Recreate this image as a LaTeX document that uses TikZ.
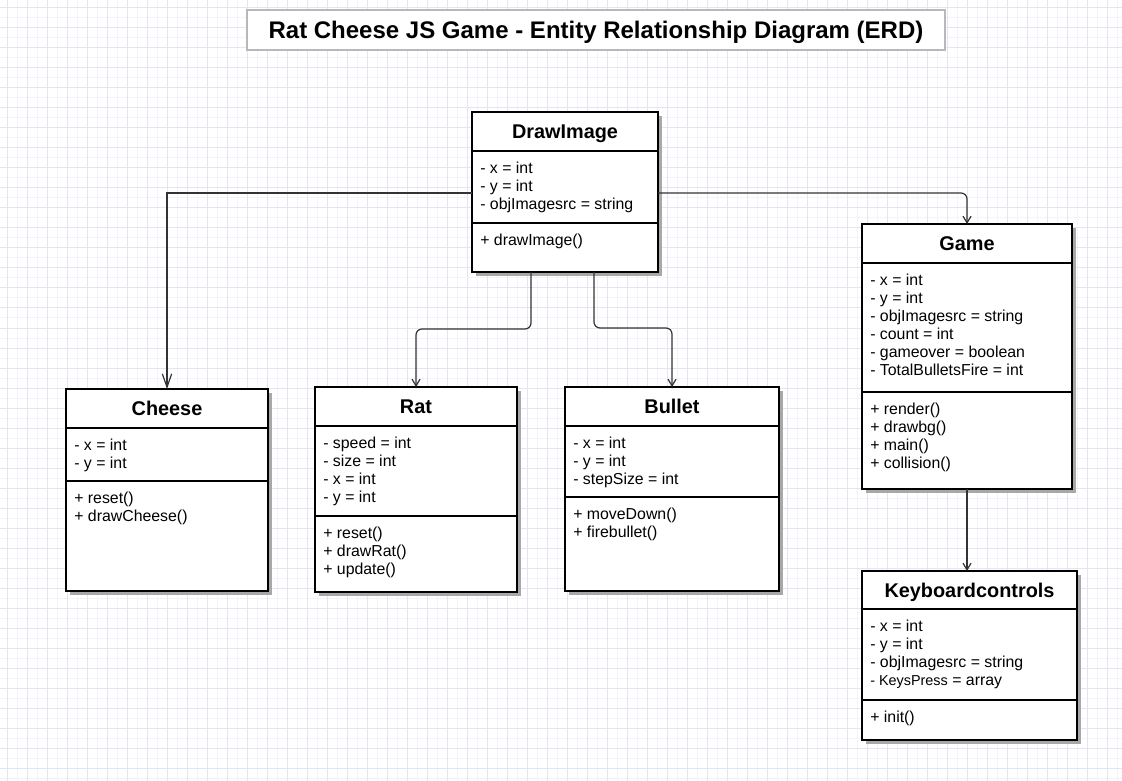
\documentclass[tikz,border=0pt]{standalone}
\usepackage{fontspec}
\setmainfont{Liberation Sans}
\usetikzlibrary{arrows.meta,shadows}
\definecolor{gridminor}{HTML}{F3F3FB}
\definecolor{gridmajor}{HTML}{E4E4F5}
\definecolor{shade}{HTML}{A8A8A8}
\definecolor{linkgray}{HTML}{333333}

\begin{document}
\begin{tikzpicture}[x=0.75pt, y=-0.75pt,
	box/.style={draw, line width=1.5pt, fill=white, anchor=north west, inner sep=0pt, outer sep=0pt,
		drop shadow={shadow xshift=3pt, shadow yshift=-3pt, fill=shade, opacity=1}},
	head/.style={box, font=\fontsize{14.9}{17}\selectfont\bfseries, text height=10.7pt, text depth=0pt},
	members/.style={anchor=north west, inner sep=0pt, align=left, font=\fontsize{11.9}{13.5}\selectfont},
	titlebox/.style={draw=black!28, line width=1.5pt, fill=white, minimum width=523.5pt, minimum height=30pt,
		font=\fontsize{18}{20}\selectfont\bfseries, text height=12.9pt, text depth=0pt},
	link/.style={draw=linkgray, line width=0.9pt, rounded corners=4.5pt, -{Straight Barb[length=5pt, width=6pt]}},
	longlink/.style={link, rounded corners=0pt, -{Straight Barb[length=10pt, width=7pt]}}]
		\useasboundingbox (0,0) rectangle (1122,781);
		\fill[white] (0,0) rectangle (1122,781);
		% grid
		\foreach \gx in {7,17,...,1117} \draw[gridminor, line width=0.75pt] (\gx,0) -- (\gx,781);
		\foreach \gy in {8,18,...,778} \draw[gridminor, line width=0.75pt] (0,\gy) -- (1122,\gy);
		\foreach \gx in {7,27,...,1107} \draw[gridmajor, line width=0.75pt] (\gx,0) -- (\gx,781);
		\foreach \gy in {8,28,...,768} \draw[gridmajor, line width=0.75pt] (0,\gy) -- (1122,\gy);

		\draw (596,30) node[titlebox] (title) {Rat Cheese JS Game - Entity Relationship Diagram (ERD)};

		% DrawImage
		\draw (472,112) node[head, minimum width=139.5pt, minimum height=29.25pt] (drawhead) {DrawImage};
		\draw (drawhead.south west) node[box, minimum width=139.5pt, minimum height=54pt] (drawattr) {};
		\draw (drawattr.south west) node[box, minimum width=139.5pt, minimum height=36.75pt] (drawmeth) {};
		\draw ([shift={(8,10.5)}]drawattr.north west) node[members] (drawattrtext) {- x = int\\- y = int\\- objImagesrc = string};
		\draw ([shift={(8,10.5)}]drawmeth.north west) node[members] (drawmethtext) {+ drawImage()};

		% Cheese
		\draw (66,389) node[head, minimum width=151.5pt, minimum height=29.25pt] (cheese) {Cheese};
		\draw (cheese.south west) node[box, minimum width=151.5pt, minimum height=39.75pt] (cheeseattr) {};
		\draw (cheeseattr.south west) node[box, minimum width=151.5pt, minimum height=82.5pt] (cheesemeth) {};
		\draw ([shift={(8,10.5)}]cheeseattr.north west) node[members] (cheeseattrtext) {- x = int\\- y = int};
		\draw ([shift={(8,10.5)}]cheesemeth.north west) node[members] (cheesemethtext) {+ reset()\\+ drawCheese()};

		% Rat
		\draw (315,387) node[head, minimum width=151.5pt, minimum height=29.25pt] (rat) {Rat};
		\draw (rat.south west) node[box, minimum width=151.5pt, minimum height=67.5pt] (ratattr) {};
		\draw (ratattr.south west) node[box, minimum width=151.5pt, minimum height=57pt] (ratmeth) {};
		\draw ([shift={(8,10.5)}]ratattr.north west) node[members] (ratattrtext) {- speed = int\\- size = int\\- x = int\\- y = int};
		\draw ([shift={(8,10.5)}]ratmeth.north west) node[members] (ratmethtext) {+ reset()\\+ drawRat()\\+ update()};

		% Bullet
		\draw (565,387) node[head, minimum width=160.5pt, minimum height=29.25pt] (bullet) {Bullet};
		\draw (bullet.south west) node[box, minimum width=160.5pt, minimum height=53.25pt] (bulletattr) {};
		\draw (bulletattr.south west) node[box, minimum width=160.5pt, minimum height=70.5pt] (bulletmeth) {};
		\draw ([shift={(8,10.5)}]bulletattr.north west) node[members] (bulletattrtext) {- x = int\\- y = int\\- stepSize = int};
		\draw ([shift={(8,10.5)}]bulletmeth.north west) node[members] (bulletmethtext) {+ moveDown()\\+ firebullet()};

		% Game
		\draw (862,224) node[head, minimum width=157.5pt, minimum height=29.25pt] (game) {Game};
		\draw (game.south west) node[box, minimum width=157.5pt, minimum height=96.75pt] (gameattr) {};
		\draw (gameattr.south west) node[box, minimum width=157.5pt, minimum height=72.75pt] (gamemeth) {};
		\draw ([shift={(8,10.5)}]gameattr.north west) node[members] (gameattrtext) {- x = int\\- y = int\\- objImagesrc = string\\- count = int\\- gameover = boolean\\- TotalBulletsFire = int};
		\draw ([shift={(8,10.5)}]gamemeth.north west) node[members] (gamemethtext) {+ render()\\+ drawbg()\\+ main()\\+ collision()};

		% Keyboardcontrols
		\draw (862,571) node[head, minimum width=161.25pt, minimum height=28.5pt] (keys) {Keyboardcontrols};
		\draw (keys.south west) node[box, minimum width=161.25pt, minimum height=68.25pt] (keysattr) {};
		\draw (keysattr.south west) node[box, minimum width=161.25pt, minimum height=30pt] (keysmeth) {};
		\draw ([shift={(8,10.5)}]keysattr.north west) node[members] (keysattrtext) {- x = int\\- y = int\\- objImagesrc = string\\{\fontsize{10.8}{13.5}\selectfont- KeysPress} = array};
		\draw ([shift={(8,10.5)}]keysmeth.north west) node[members] (keysmethtext) {+ init()};

		% links
		\draw [longlink] ([yshift=-4.5pt]drawattr.west) -| (cheese.north);
		\draw [link] ([yshift=-4.5pt]drawattr.east) -| (game.north);
		\draw [link] ([xshift=-25.5pt]drawmeth.south) -- ++(0,57) -| (rat.north);
		\draw [link] ([xshift=21.75pt]drawmeth.south) -- ++(0,56) -| (bullet.north);
		\draw [link] (gamemeth.south) -- (gamemeth.south |- keys.north);
	\end{tikzpicture}
\end{document}
